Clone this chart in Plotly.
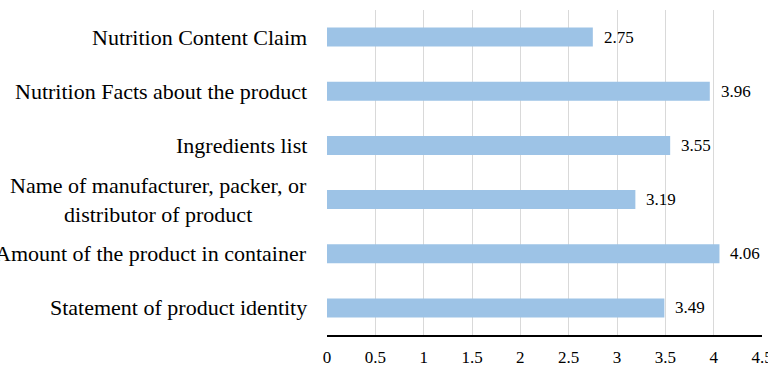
import plotly.graph_objects as go

categories = [
    "Nutrition Content Claim",
    "Nutrition Facts about the product",
    "Ingredients list",
    "Name of manufacturer, packer, or<br>distributor of product",
    "Amount of the product in container",
    "Statement of product identity",
]
values = [2.75, 3.96, 3.55, 3.19, 4.06, 3.49]
x_ticks = [0, 0.5, 1, 1.5, 2, 2.5, 3, 3.5, 4, 4.5]
x_tick_labels = ["0", "0.5", "1", "1.5", "2", "2.5", "3", "3.5", "4", "4.5"]

font_family = "Times New Roman"

fig = go.Figure()
fig.add_trace(go.Bar(
    x=values,
    y=categories,
    orientation="h",
    marker=dict(color="#9DC3E6", line=dict(width=0)),
    width=0.35,
    hoverinfo="skip",
))

annotations = []
for c, v in zip(categories, values):
    annotations.append(dict(
        x=0, xref="paper", y=c, yref="y",
        text=c, showarrow=False, xanchor="right", align="center",
        xshift=-18, font=dict(family=font_family, size=22, color="#000000"),
    ))
    annotations.append(dict(
        x=v, xref="x", y=c, yref="y",
        text=f"{v:.2f}", showarrow=False, xanchor="left",
        xshift=9, font=dict(family=font_family, size=17, color="#000000"),
    ))

fig.update_layout(
    width=768, height=368,
    margin=dict(l=327, r=6, t=10, b=33, autoexpand=False),
    paper_bgcolor="white",
    plot_bgcolor="white",
    showlegend=False,
    annotations=annotations,
    xaxis=dict(
        range=[0, 4.5],
        tickvals=x_ticks,
        ticktext=x_tick_labels,
        showgrid=True,
        gridcolor="#D9D9D9",
        gridwidth=1,
        zeroline=False,
        showline=True,
        linecolor="#000000",
        linewidth=1.5,
        ticks="",
        ticklabelstandoff=6,
        ticklabeloverflow="allow",
        automargin=False,
        tickfont=dict(family=font_family, size=17, color="#000000"),
        fixedrange=True,
    ),
    yaxis=dict(
        autorange="reversed",
        showticklabels=False,
        showgrid=False,
        zeroline=False,
        showline=False,
        ticks="",
        automargin=False,
        fixedrange=True,
    ),
)

fig.write_html("out.html")
